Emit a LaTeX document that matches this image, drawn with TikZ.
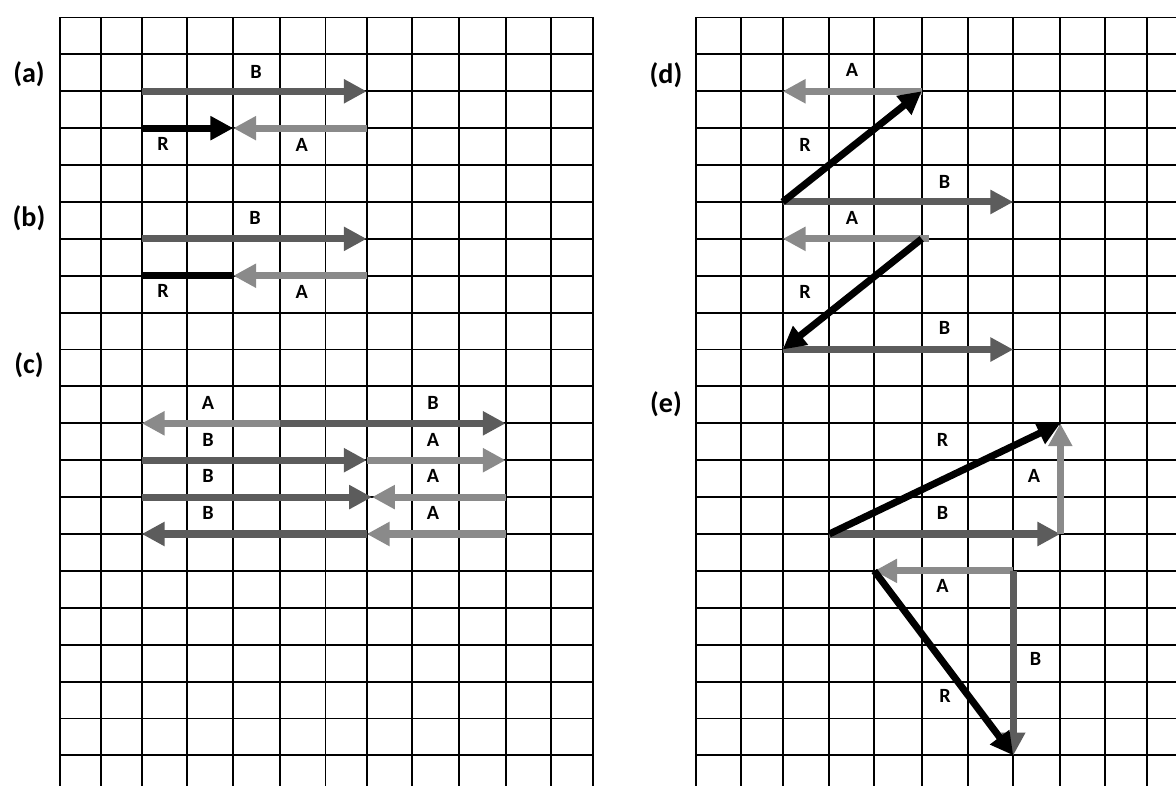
\documentclass[tikz,border=0pt]{standalone}
\usepackage{fontspec}
\setmainfont{Carlito}
\usetikzlibrary{arrows.meta}
\definecolor{lightvec}{HTML}{8A8A8A}
\definecolor{darkvec}{HTML}{5C5C5C}
\tikzset{
  % Base styles
  sheet base/.style={x=0.02cm, y=-0.02cm},
  row units/.style={shift={(0,17.5)}, y=-0.738cm},
  grid line/.style={draw=black, line width=1.1pt, line cap=rect},
  % Vectors
  vec tip/.style={-{Triangle[length=13pt,width=13pt]}},
  vec A/.style={vec tip, line width=4pt, draw=lightvec},
  vec B/.style={vec tip, line width=4pt, draw=darkvec},
  vec R/.style={vec tip, line width=4pt, draw=black},
  % Labels
  vec label/.style={font=\bfseries\fontsize{11.5}{13}\selectfont, inner sep=0pt},
  part label/.style={font=\bfseries\fontsize{16}{18}\selectfont, inner sep=0pt},
}

\begin{document}
\begin{tikzpicture}[sheet base]
\useasboundingbox (0,0) rectangle (1176,786);
\clip (0,0) rectangle (1176,786);

% Part labels
\node[part label] (pa) at (29,74) {(a)};
\node[part label] (pb) at (29,218) {(b)};
\node[part label] (pc) at (29,365) {(c)};
\node[part label] (pd) at (666,75) {(d)};
\node[part label] (pe) at (666,404) {(e)};

% x in px, y in grid rows
\begin{scope}[row units]
% Left sheet
\foreach \x in {60,100.7,141.7,186.7,233.3,280,325.5,366.7,412.3,459.3,505.7,551,592.7}
  \draw[grid line] (\x,0) -- (\x,21);
\foreach \j in {0,...,20} \draw[grid line] (60,\j) -- (592.7,\j);

% Right sheet
\foreach \x in {695.7,741,782.7,829.3,874.3,921.7,968,1013.3,1060.3,1105.3,1147,1192}
  \draw[grid line] (\x,0) -- (\x,21);
\foreach \j in {0,...,20} \draw[grid line] (695.7,\j) -- (1192,\j);

% (a)
\coordinate (a1) at (141.7,2);
\coordinate (a2) at (366.7,2);
\coordinate (a3) at (141.7,3);
\coordinate (a4) at (233.3,3);
\coordinate (a5) at (366.7,3);
\draw[vec B] (a1) -- (a2);
\draw[vec R] (a3) -- (a4);
\draw[vec A] (a5) -- (a4);
\node[vec label] (aB) at (256,1.48) {B};
\node[vec label] (aR) at (163,3.42) {R};
\node[vec label] (aA) at (301.7,3.45) {A};

% (b)
\coordinate (b1) at (141.7,6);
\coordinate (b2) at (366.7,6);
\coordinate (b3) at (141.7,7);
\coordinate (b4) at (233.3,7);
\coordinate (b5) at (366.7,7);
\draw[vec B] (b1) -- (b2);
\draw[line width=4pt, draw=black] (b3) -- (b4);
\draw[vec A] (b5) -- (b4);
\node[vec label] (bB) at (255,5.42) {B};
\node[vec label] (bR) at (163,7.42) {R};
\node[vec label] (bA) at (301.7,7.45) {A};

% (c)
\coordinate (c1) at (141.7,11);
\coordinate (c2) at (280,11);
\coordinate (c3) at (505.7,11);
\draw[vec A] (c2) -- (c1);
\draw[vec B] (c2) -- (c3);
\coordinate (c4) at (141.7,12);
\coordinate (c5) at (366.7,12);
\coordinate (c6) at (505.7,12);
\draw[vec B] (c4) -- (c5);
\draw[vec A] (c5) -- (c6);
\coordinate (c7) at (141.7,13);
\coordinate (c8) at (372,13);
\coordinate (c9) at (505.7,13);
\draw[vec B] (c7) -- (c8);
\draw[vec A] (c9) -- (c8);
\coordinate (c10) at (141.7,14);
\coordinate (c11) at (366.7,14);
\coordinate (c12) at (505.7,14);
\draw[vec B] (c11) -- (c10);
\draw[vec A] (c12) -- (c11);
\foreach \r/\p/\q in {10/A/B, 11/B/A, 12/B/A, 13/B/A} {
  \node[vec label] (cL\r) at (208,\r.44) {\p};
  \node[vec label] (cR\r) at (433,\r.44) {\q};
}

% (d)
\coordinate (d1) at (782.7,2);
\coordinate (d2) at (921.7,2);
\coordinate (d3) at (782.7,5);
\coordinate (d4) at (1013.3,5);
\draw[vec A] (d2) -- (d1);
\draw[vec B] (d3) -- (d4);
\draw[vec R] (d3) -- (d2);
\node[vec label] (dA1) at (852,1.43) {A};
\node[vec label] (dR1) at (805,3.45) {R};
\node[vec label] (dB1) at (944.5,4.45) {B};
\coordinate (d5) at (782.7,6);
\coordinate (d6) at (929,6);
\coordinate (d7) at (921.7,6);
\coordinate (d8) at (782.7,9);
\coordinate (d9) at (1013.3,9);
\draw[vec A] (d6) -- (d5);
\draw[vec B] (d8) -- (d9);
\draw[vec R] (d7) -- (d8);
\node[vec label] (dA2) at (852,5.43) {A};
\node[vec label] (dR2) at (805,7.43) {R};
\node[vec label] (dB2) at (944.5,8.42) {B};

% (e)
\coordinate (e1) at (829.3,14);
\coordinate (e2) at (1060.3,14);
\coordinate (e3) at (1060.3,11);
\draw[vec B] (e1) -- (e2);
\draw[vec A] (e2) -- (e3);
\draw[vec R] (e1) -- (e3);
\node[vec label] (eR1) at (942.6,11.45) {R};
\node[vec label] (eA1) at (1034,12.44) {A};
\node[vec label] (eB1) at (942.6,13.43) {B};
\coordinate (e4) at (1013.3,15);
\coordinate (e5) at (874.3,15);
\coordinate (e6) at (1013.3,20);
\draw[vec A] (e4) -- (e5);
\draw[vec B] (e4) -- (e6);
\draw[vec R] (e5) -- (e6);
\node[vec label] (eA2) at (942.6,15.42) {A};
\node[vec label] (eB2) at (1035.5,17.4) {B};
\node[vec label] (eR2) at (945,18.38) {R};
\end{scope}
\end{tikzpicture}
\end{document}
